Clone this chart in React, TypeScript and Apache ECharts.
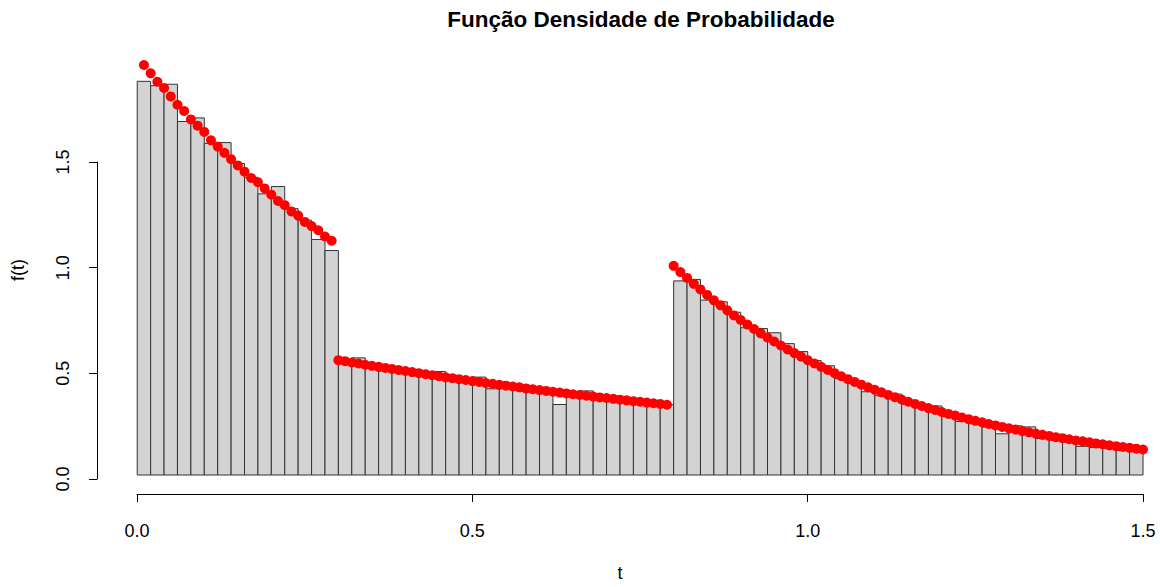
import React, { useEffect, useRef } from "react";
import * as echarts from "echarts";

// Histogram: bins of width 0.02 from 0 to 1.5 (density heights)
const binStart = 0;
const binWidth = 0.02;
const densities = [
  1.882, 1.861, 1.868, 1.690, 1.707, 1.585, 1.589, 1.489, 1.423, 1.344,
  1.379, 1.273, 1.218, 1.126, 1.073,
  0.552, 0.560, 0.524, 0.497, 0.500, 0.484, 0.476, 0.495, 0.460, 0.453,
  0.468, 0.412, 0.427, 0.413, 0.406, 0.398, 0.337, 0.392, 0.402, 0.374,
  0.366, 0.358, 0.350, 0.342, 0.336,
  0.928, 0.935, 0.836, 0.828, 0.778, 0.704, 0.700, 0.680, 0.628, 0.590,
  0.547, 0.522, 0.461, 0.437, 0.398, 0.379, 0.387, 0.338, 0.326, 0.330,
  0.279, 0.256, 0.245, 0.229, 0.197, 0.235, 0.230, 0.174, 0.166, 0.157,
  0.137, 0.131, 0.127, 0.118, 0.113,
];

// Red density points (t step 0.01), three pieces
const seg1Start = 0.0;
const seg1Values = [
  2.00, 1.96, 1.92, 1.88, 1.85, 1.81, 1.77, 1.74, 1.70, 1.67,
  1.64, 1.60, 1.57, 1.54, 1.51, 1.48, 1.45, 1.42, 1.40, 1.37,
  1.34, 1.31, 1.29, 1.26, 1.24, 1.21, 1.19, 1.17, 1.14, 1.12,
];
const seg2Start = 0.3;
const seg2Values = [
  0.549, 0.544, 0.538, 0.533, 0.527, 0.522, 0.517, 0.512, 0.507, 0.502,
  0.497, 0.492, 0.487, 0.482, 0.477, 0.472, 0.467, 0.463, 0.458, 0.454,
  0.449, 0.445, 0.440, 0.436, 0.431, 0.427, 0.423, 0.419, 0.414, 0.410,
  0.406, 0.402, 0.398, 0.394, 0.390, 0.386, 0.383, 0.379, 0.375, 0.371,
  0.368, 0.364, 0.360, 0.357, 0.353, 0.350, 0.346, 0.343, 0.340, 0.336,
];
const seg3Start = 0.8;
const seg3Values = [
  1.000, 0.970, 0.942, 0.914, 0.887, 0.861, 0.835, 0.811, 0.787, 0.763,
  0.741, 0.719, 0.698, 0.677, 0.657, 0.638, 0.619, 0.600, 0.583, 0.566,
  0.549, 0.533, 0.517, 0.502, 0.487, 0.472, 0.458, 0.445, 0.432, 0.419,
  0.407, 0.395, 0.383, 0.372, 0.361, 0.350, 0.340, 0.330, 0.320, 0.311,
  0.301, 0.292, 0.284, 0.275, 0.267, 0.259, 0.252, 0.244, 0.237, 0.230,
  0.223, 0.217, 0.210, 0.204, 0.198, 0.192, 0.187, 0.181, 0.176, 0.171,
  0.165, 0.161, 0.156, 0.151, 0.147, 0.142, 0.138, 0.134, 0.130, 0.126,
  0.122,
];
const pointStep = 0.01;

const xTicks = [0, 0.5, 1.0, 1.5];
const yTicks = [0, 0.5, 1.0, 1.5];

const FONT = "Liberation Sans, Arial, Helvetica, sans-serif";

export default function App() {
  const ref = useRef<HTMLDivElement>(null);

  useEffect(() => {
    document.body.style.margin = "0";
    const chart = echarts.init(ref.current!, null, { renderer: "svg" });

    const bars = densities.map((d, i) => {
      const x0 = +(binStart + i * binWidth).toFixed(4);
      const x1 = +(binStart + (i + 1) * binWidth).toFixed(4);
      return [x0, x1, d];
    });
    const toPts = (start: number, vals: number[]) =>
      vals.map((v, i) => [+(start + i * pointStep).toFixed(4), v]);
    const points = [
      ...toPts(seg1Start, seg1Values),
      ...toPts(seg2Start, seg2Values),
      ...toPts(seg3Start, seg3Values),
    ];

    const txt = { color: "#000", fontFamily: FONT, fontSize: 18 };

    chart.setOption({
      animation: false,
      title: {
        text: "Função Densidade de Probabilidade",
        left: 636,
        top: 3,
        textAlign: "center",
        textStyle: { fontFamily: FONT, fontSize: 22.5, fontWeight: "bold", color: "#000" },
      },
      grid: [
        { left: 97, top: 65, width: 1046, height: 414 },
        { left: 137, top: 65, width: 1006, height: 429 },
        { left: 97, top: 162, width: 100, height: 317 },
      ],
      xAxis: [
        {
          gridIndex: 0, type: "value", min: -0.06, max: 1.5,
          axisLine: { show: false }, axisTick: { show: false },
          axisLabel: { show: false }, splitLine: { show: false },
          name: "t", nameLocation: "middle", nameGap: 89,
          nameTextStyle: txt,
        },
        {
          gridIndex: 1, type: "value", min: xTicks[0], max: xTicks[xTicks.length - 1], interval: 0.5,
          axisLine: { show: true, lineStyle: { color: "#000", width: 1 } },
          axisTick: { show: true, length: 8, lineStyle: { color: "#000" } },
          axisLabel: { ...txt, margin: 28, formatter: (v: number) => v.toFixed(1) },
          splitLine: { show: false },
        },
        { gridIndex: 2, type: "value", show: false },
      ],
      yAxis: [
        {
          gridIndex: 0, type: "value", min: 0, max: 1.96,
          axisLine: { show: false }, axisTick: { show: false },
          axisLabel: { show: false }, splitLine: { show: false },
          name: "f(t)", nameLocation: "middle", nameGap: 70, nameRotate: 90,
          nameTextStyle: txt,
        },
        { gridIndex: 1, type: "value", show: false },
        {
          gridIndex: 2, type: "value", min: yTicks[0], max: yTicks[yTicks.length - 1], interval: 0.5,
          axisLine: { show: true, lineStyle: { color: "#000", width: 1 } },
          axisTick: { show: true, length: 8, lineStyle: { color: "#000" } },
          axisLabel: { ...txt, margin: 25, rotate: 90, formatter: (v: number) => v.toFixed(1) },
          splitLine: { show: false },
        },
      ],
      series: [
        {
          type: "custom",
          xAxisIndex: 0,
          yAxisIndex: 0,
          data: bars,
          encode: { x: [0, 1], y: 2 },
          renderItem: (params: any, api: any) => {
            const p0 = api.coord([api.value(0), api.value(2)]);
            const p1 = api.coord([api.value(1), 0]);
            return {
              type: "rect",
              shape: { x: p0[0], y: p0[1], width: p1[0] - p0[0], height: p1[1] - p0[1] },
              style: { fill: "#D3D3D3", stroke: "#333", lineWidth: 1 },
            };
          },
          z: 1,
        },
        {
          type: "scatter",
          xAxisIndex: 0,
          yAxisIndex: 0,
          data: points,
          symbol: "circle",
          symbolSize: 10,
          itemStyle: { color: "#FF0000", opacity: 1 },
          z: 3,
        },
      ],
    });

    return () => chart.dispose();
  }, []);

  return <div ref={ref} style={{ width: 1160, height: 587 }} />;
}
